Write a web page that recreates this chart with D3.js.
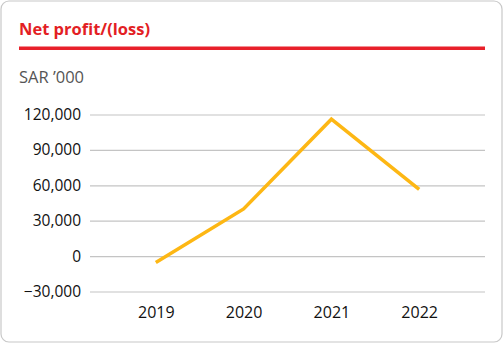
<!DOCTYPE html>
<html><head><meta charset="utf-8">
<script src="https://cdn.jsdelivr.net/npm/d3@7"></script>
<style>body{margin:0;background:#fff}svg{display:block}</style>
</head><body>
<svg id="c" width="503" height="343"></svg>
<script>
const years = ["2019","2020","2021","2022"];
const netProfit = [-5500, 40000, 116000, 56500];
const yTicks = [-30000, 0, 30000, 60000, 90000, 120000];

const svg = d3.select("#c");
const font = "'Open Sans', sans-serif";
svg.append("rect").attr("x",1).attr("y",1).attr("width",501).attr("height",341)
  .attr("rx",8).attr("fill","#fff").attr("stroke","#c8c8c8").attr("stroke-width",1.2);
svg.append("text").attr("x",19).attr("y",35).text("Net profit/(loss)")
  .attr("fill","#e31e24").attr("font-family",font).attr("font-weight",700).attr("font-size",16.5);
svg.append("rect").attr("x",19).attr("y",46.5).attr("width",466).attr("height",3.5).attr("fill","#e8202a");
svg.append("text").attr("x",19).attr("y",83).text("SAR \u2019000")
  .attr("fill","#555").attr("font-family",font).attr("font-size",16.5);

const x = d3.scalePoint().domain(years).range([90,485]).padding(0.75);
const y = d3.scaleLinear().domain([-30000,120000]).range([291.5,114.5]);

const gy = svg.append("g").attr("transform","translate(90,0)")
  .call(d3.axisLeft(y).tickValues(yTicks).tickSize(-395).tickPadding(9)
    .tickFormat(d3.format(",")));
gy.select(".domain").remove();
gy.selectAll(".tick line").attr("stroke","#c4c4c4").attr("stroke-width",1.2);
gy.selectAll(".tick text").attr("font-family",font).attr("font-size",15.5).attr("fill","#111");

const gx = svg.append("g").attr("transform","translate(0,291.5)")
  .call(d3.axisBottom(x).tickSize(0).tickPadding(15));
gx.select(".domain").remove();
gx.selectAll(".tick text").attr("font-family",font).attr("font-size",16).attr("fill","#111");

svg.append("path").datum(netProfit)
  .attr("d", d3.line().x((d,i)=>x(years[i])).y(d=>y(d)))
  .attr("fill","none").attr("stroke","#fdb714").attr("stroke-width",3.5);
</script>
</body></html>
